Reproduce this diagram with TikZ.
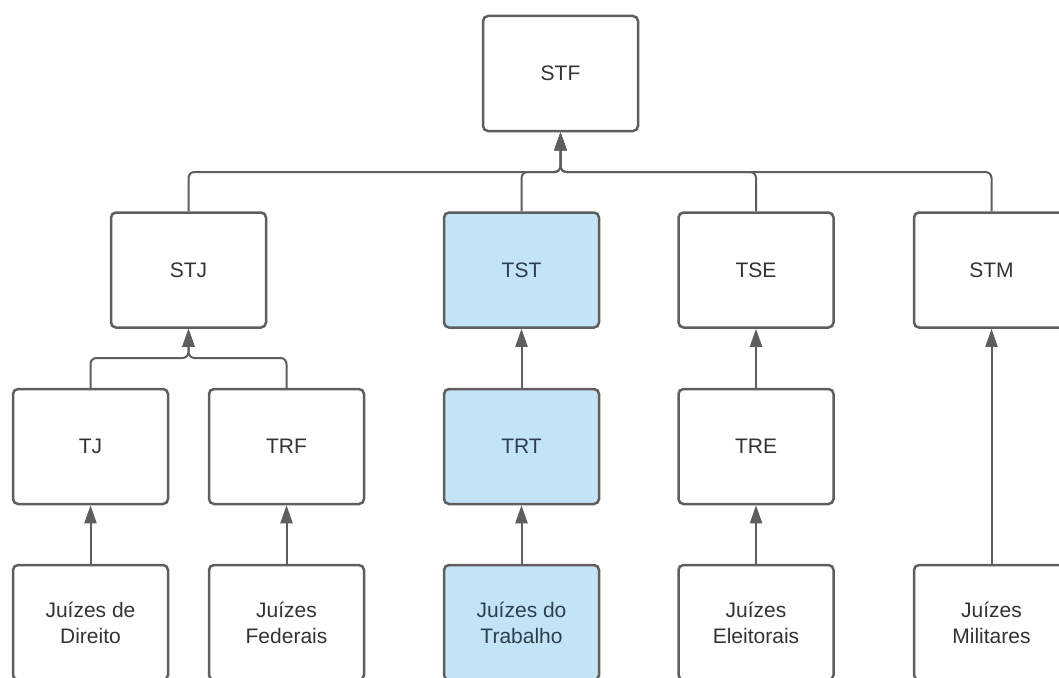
\documentclass[tikz,border=0pt]{standalone}
\usepackage{fontspec}
\setmainfont{Liberation Sans}
\usetikzlibrary{arrows.meta}
\definecolor{linegray}{HTML}{5E5E5E}
\definecolor{courtblue}{HTML}{C3E4F6}
\definecolor{textgray}{HTML}{333333}
\definecolor{textblue}{HTML}{2E3E4E}
\begin{document}
\begin{tikzpicture}
    [
    x=1pt, y=-1pt,
    court/.style={draw=linegray, line width=2.5pt, rounded corners=5pt, fill=white, text=textgray,
      minimum width=155pt, minimum height=115pt, inner sep=0pt, align=center,
      font=\fontsize{21}{26}\selectfont},
    labor/.style={fill=courtblue, text=textblue},
    link/.style={draw=linegray, line width=2pt, rounded corners=6pt, -{Triangle[length=18pt,width=12pt]}}
    ]
    \useasboundingbox (0,0) rectangle (1059,677);
    \clip (0,0) rectangle (1059,677);
    % top
    \node (stf) at (560.5,73.5) [court] {STF};
    % superior courts
    \node (stj) at (188.5,270) [court] {STJ};
    \node (tst) at (521.5,270) [court, labor] {TST};
    \node (tse) at (756,270) [court] {TSE};
    \node (stm) at (991.5,270) [court] {STM};
    % second level
    \node (tj) at (90.5,446.5) [court] {TJ};
    \node (trf) at (286.5,446.5) [court] {TRF};
    \node (trt) at (521.5,446.5) [court, labor] {TRT};
    \node (tre) at (756,446.5) [court] {TRE};
    % judges
    \node (jdir) at (90.5,622.5) [court] {Juízes de\\Direito};
    \node (jfed) at (286.5,622.5) [court] {Juízes\\Federais};
    \node (jtrab) at (521.5,622.5) [court, labor] {Juízes do\\Trabalho};
    \node (jele) at (756,622.5) [court] {Juízes\\Eleitorais};
    \node (jmil) at (991.5,622.5) [court] {Juízes\\Militares};
    \coordinate (stfhub) at (560.5,172);
    \coordinate (stjhub) at (188.5,358);
    \draw [link] (stj.north) |- (stfhub) -- (stf.south);
    \draw [link] (tst.north) |- (stfhub) -- (stf.south);
    \draw [link] (tse.north) |- (stfhub) -- (stf.south);
    \draw [link] (stm.north) |- (stfhub) -- (stf.south);
    \draw [link] (tj.north) |- (stjhub) -- (stj.south);
    \draw [link] (trf.north) |- (stjhub) -- (stj.south);
    \draw [link] (trt) -- (tst);
    \draw [link] (tre) -- (tse);
    \draw [link] (jdir) -- (tj);
    \draw [link] (jfed) -- (trf);
    \draw [link] (jtrab) -- (trt);
    \draw [link] (jele) -- (tre);
    \draw [link] (jmil) -- (stm);
  \end{tikzpicture}
\end{document}
